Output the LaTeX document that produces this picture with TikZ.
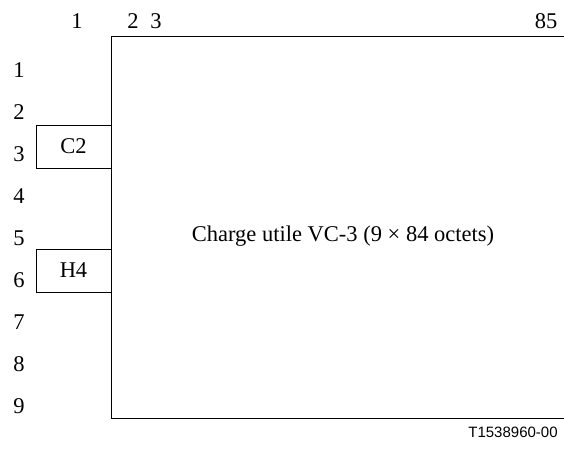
\documentclass[tikz,border=0pt]{standalone}
\usepackage{fontspec}
\setmainfont{Liberation Serif}
\newfontfamily\labelsans{Liberation Sans}
\usetikzlibrary{positioning}
\definecolor{ink}{HTML}{000000}
\tikzset{
  frame/.style={draw=ink, line width=1pt},
  ohbox/.style={frame, fill=white, minimum width=75pt, minimum height=43pt,
                inner sep=0pt, font=\fontsize{22.5}{27}\selectfont},
  num/.style={inner sep=0pt, font=\fontsize{22.5}{27}\selectfont},
  ref/.style={inner sep=0pt, font=\labelsans\fontsize{15}{18}\selectfont}
}

\begin{document}
\begin{tikzpicture}[x=1pt,y=-1pt]
  \useasboundingbox (0,0) rectangle (564,448);

  % payload area, open on the right
  \coordinate (tl) at (111,36);
  \coordinate (tr) at (564,36);
  \coordinate (bl) at (111,418);
  \coordinate (br) at (564,418);
  \draw[frame] (tr) -- (tl) -- (bl) -- (br);

  % column numbers
  \node[num] (col1) at (77,21) {1};
  \node[num] (col2) at (133,21) {2};
  \node[num] (col3) at (156,21) {3};
  \node[num] (col85) at (546,21) {85};

  % row numbers
  \foreach \r in {1,...,9}
    \node[num] (row\r) at (19,{70+42*(\r-1)}) {\r};

  % overhead bytes
  \node[ohbox] (ctwo) at (73.5,146.5) {C2};
  \node[ohbox] (hfour) at (73.5,270.5) {H4};

  \node[num] (payload) at (343,236) {Charge utile VC-3 (9 × 84 octets)};

  \node[ref] (figref) at (513,432) {T1538960-00};
\end{tikzpicture}
\end{document}
